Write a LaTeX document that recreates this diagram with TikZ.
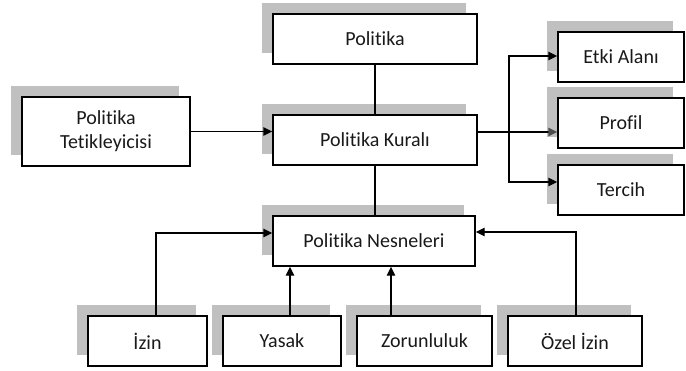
\documentclass[tikz,border=0pt]{standalone}
\usepackage{fontspec}
\setmainfont{Carlito}[Ligatures=NoCommon]
\usetikzlibrary{arrows.meta,shadows}
\definecolor{shade}{RGB}{192,192,192}
\definecolor{ink}{RGB}{0,0,0}
\tikzset{
  box/.style={draw=ink, line width=1.4pt, fill=white, inner sep=0pt, align=center,
    font=\fontsize{20}{24}\selectfont, text=black!90,
    drop shadow={shadow xshift=-11pt, shadow yshift=11pt, fill=shade, opacity=1}},
  conn/.style={draw=ink, line width=1.4pt},
  arr/.style={conn, -{Triangle[length=9pt,width=8.5pt]}},
  garr/.style={conn, -{Triangle[length=9pt,width=8.5pt,color=black!70]}}
}
\begin{document}
\begin{tikzpicture}[x=1pt,y=1pt]
\useasboundingbox (0,0) rectangle (686,-370);
\node[box, minimum width=204, minimum height=50] (pol) at (375,-39) {Politika};
\node[box, minimum width=204, minimum height=50] (kur) at (375,-140) {Politika Kuralı};
\node[box, minimum width=168, minimum height=69] (tet) at (106,-131.5) {Politika\\Tetikleyicisi};
\node[box, minimum width=202, minimum height=50] (nes) at (374,-241) {Politika Nesneleri};
\node[box, minimum width=126, minimum height=50] (etki) at (621,-57) {Etki Alanı};
\node[box, minimum width=126, minimum height=50] (prof) at (621,-123) {Profil};
\node[box, minimum width=126, minimum height=50] (terc) at (621,-190) {Tercih};
\node[box, minimum width=119, minimum height=50] (izin) at (147.5,-341) {İzin};
\node[box, minimum width=118, minimum height=50] (yasak) at (282,-341) {Yasak};
\node[box, minimum width=135, minimum height=50] (zor) at (424.5,-341) {Zorunluluk};
\node[box, minimum width=134, minimum height=50] (ozel) at (575,-341) {Özel İzin};

\draw[conn] (pol.south) -- (kur.north);
\draw[conn] (kur.south) -- (kur.south |- nes.north);
\draw[arr] (tet.east) -- (tet.east -| kur.west);

\coordinate (kout) at ([yshift=8]kur.east);
\coordinate (br) at (509,-132);
\draw[garr] (kout) -- (kout -| prof.west);
\draw[arr] (br) |- ([yshift=1]etki.west);
\draw[arr] (br) |- ([yshift=8]terc.west);

\draw[arr] ([xshift=8.5]izin.north) |- ([yshift=8]nes.west);
\draw[arr] ([xshift=8]yasak.north) -- ([xshift=8]yasak.north |- nes.south);
\draw[arr] ([xshift=-33.5]zor.north) -- ([xshift=-33.5]zor.north |- nes.south);
\draw[arr] ([xshift=1]ozel.north) |- ([yshift=9]nes.east);
\end{tikzpicture}
\end{document}
